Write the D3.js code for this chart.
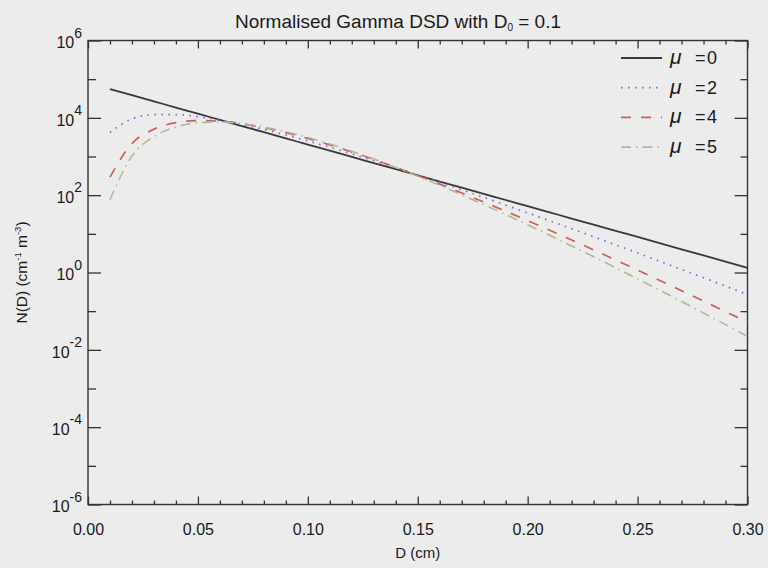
<!DOCTYPE html>
<html>
<head>
<meta charset="utf-8">
<script src="https://cdn.jsdelivr.net/npm/d3@7"></script>
<style>
    body { margin: 0; background: #ececec; }
    svg { display: block; }
    text { font-family: "Liberation Sans", Arial, Helvetica, sans-serif; fill: #1a1a1a; }
</style>
</head>
<body>
<svg id="chart" width="768" height="568"></svg>
<script>
"use strict"

// drop diameter D (cm)
const diameters = [0.01, 0.02, 0.03, 0.04, 0.05, 0.06, 0.07, 0.08, 0.09, 0.10,
    0.11, 0.12, 0.13, 0.14, 0.15, 0.16, 0.17, 0.18, 0.19, 0.20,
    0.21, 0.22, 0.23, 0.24, 0.25, 0.26, 0.27, 0.28, 0.29, 0.30]

// N(D) values (cm^-1 m^-3)
const nMu0 = [55400, 38400, 26600, 18400, 12800, 8850, 6130, 4250, 2940, 2040,
    1410, 978, 678, 470, 325, 225, 156, 108, 75.0, 51.9,
    36.0, 24.9, 17.3, 12.0, 8.29, 5.74, 3.98, 2.76, 1.91, 1.32]
const nMu2 = [4155, 9430, 12030, 12130, 10750, 8782, 6781, 5024, 3607, 2526,
    1734, 1170, 779, 513, 334, 215, 138, 87.7, 55.4, 34.8,
    21.8, 13.6, 8.41, 5.19, 3.20, 1.96, 1.20, 0.732, 0.445, 0.270]
const nMu4 = [292, 2170, 5100, 7486, 8488, 8174, 7034, 5572, 4145, 2934,
    1995, 1312, 839, 524, 321, 193, 114, 66.6, 38.4, 21.9,
    12.4, 6.92, 3.84, 2.11, 1.155, 0.628, 0.339, 0.182, 0.0973, 0.0517]
const nMu5 = [76.3, 1026, 3275, 5800, 7436, 7776, 7063, 5787, 4381, 3119,
    2110, 1370, 859, 523, 310, 180, 102, 57.3, 31.5, 17.1,
    9.19, 4.87, 2.56, 1.33, 0.685, 0.350, 0.178, 0.0896, 0.0449, 0.0223]

const seriesNames = ["0", "2", "4", "5"]
const seriesValues = [nMu0, nMu2, nMu4, nMu5]

const xMajor = [0, 0.05, 0.10, 0.15, 0.20, 0.25, 0.30]
const xMinor = [0.01, 0.02, 0.03, 0.04, 0.06, 0.07, 0.08, 0.09, 0.11, 0.12, 0.13, 0.14,
    0.16, 0.17, 0.18, 0.19, 0.21, 0.22, 0.23, 0.24, 0.26, 0.27, 0.28, 0.29]
const yMajor = [1e-6, 1e-4, 1e-2, 1, 1e2, 1e4, 1e6]
const yMinor = [1e-5, 1e-3, 1e-1, 1e1, 1e3, 1e5]

const styles = [
    { color: "#383838", width: 1.8, dash: null },
    { color: "#6b6bd8", width: 1.7, dash: "1.5,5.5" },
    { color: "#cf5e52", width: 1.7, dash: "10,10" },
    { color: "#b3b894", width: 1.6, dash: "10,5,1.5,5" }
]

const margin = { top: 40.5, right: 20.5, bottom: 63.5, left: 88 }
const W = 768, H = 568

const svg = d3.select("#chart")

const x = d3.scaleLinear().domain([0, 0.3]).range([margin.left, W - margin.right])
const y = d3.scaleLog().domain([1e-6, 1e6]).range([H - margin.bottom, margin.top])

const plotBottom = H - margin.bottom
const plotRight = W - margin.right

function cleanAxis(g) {
    g.select(".domain").remove()
    g.selectAll(".tick line").attr("stroke", "#333").attr("stroke-width", 1.3)
    return g
}

// bottom axis with labels
svg.append("g")
    .attr("transform", `translate(0,${plotBottom})`)
    .call(d3.axisBottom(x).tickValues(xMajor).tickSizeInner(-8).tickSizeOuter(0)
        .tickPadding(19).tickFormat(d3.format(".2f")))
    .call(cleanAxis)
    .call(g => g.selectAll("text").attr("font-size", 16).attr("fill", "#1a1a1a"))

svg.append("g")
    .attr("transform", `translate(0,${plotBottom})`)
    .call(d3.axisBottom(x).tickValues(xMinor).tickSizeInner(-4).tickSizeOuter(0).tickFormat(""))
    .call(cleanAxis)

// top axis, ticks only
svg.append("g")
    .attr("transform", `translate(0,${margin.top})`)
    .call(d3.axisTop(x).tickValues(xMajor).tickSizeInner(-8).tickSizeOuter(0).tickFormat(""))
    .call(cleanAxis)

svg.append("g")
    .attr("transform", `translate(0,${margin.top})`)
    .call(d3.axisTop(x).tickValues(xMinor).tickSizeInner(-4).tickSizeOuter(0).tickFormat(""))
    .call(cleanAxis)

// left axis with 10^n labels
svg.append("g")
    .attr("transform", `translate(${margin.left},0)`)
    .call(d3.axisLeft(y).tickValues(yMajor).tickSizeInner(-13).tickSizeOuter(0)
        .tickPadding(6).tickFormat(""))
    .call(cleanAxis)
    .call(g => g.selectAll(".tick text")
        .attr("font-size", 16)
        .attr("fill", "#1a1a1a")
        .attr("dy", "0.45em")
        .each(function (d) {
            const t = d3.select(this)
            t.text("10")
            t.append("tspan")
                .attr("font-size", 14)
                .attr("dy", "-0.75em")
                .text(Math.round(Math.log10(d)))
        }))

svg.append("g")
    .attr("transform", `translate(${margin.left},0)`)
    .call(d3.axisLeft(y).tickValues(yMinor).tickSizeInner(-8).tickSizeOuter(0).tickFormat(""))
    .call(cleanAxis)

// right axis, ticks only
svg.append("g")
    .attr("transform", `translate(${plotRight},0)`)
    .call(d3.axisRight(y).tickValues(yMajor).tickSizeInner(-13).tickSizeOuter(0).tickFormat(""))
    .call(cleanAxis)

svg.append("g")
    .attr("transform", `translate(${plotRight},0)`)
    .call(d3.axisRight(y).tickValues(yMinor).tickSizeInner(-7).tickSizeOuter(0).tickFormat(""))
    .call(cleanAxis)

// frame
svg.append("rect")
    .attr("x", margin.left)
    .attr("y", margin.top)
    .attr("width", plotRight - margin.left)
    .attr("height", plotBottom - margin.top)
    .attr("fill", "none")
    .attr("stroke", "#333")
    .attr("stroke-width", 1.4)

// curves
const line = d3.line()
    .x(d => x(d[0]))
    .y(d => y(d[1]))
    .curve(d3.curveMonotoneX)

seriesValues.forEach((vals, i) => {
    const pts = diameters.map((D, j) => [D, vals[j]])
    svg.append("path")
        .datum(pts)
        .attr("fill", "none")
        .attr("stroke", styles[i].color)
        .attr("stroke-width", styles[i].width)
        .attr("stroke-dasharray", styles[i].dash)
        .attr("d", line)
})

// legend
const legend = svg.append("g").attr("transform", "translate(621,58)")
seriesNames.forEach((name, i) => {
    const row = legend.append("g").attr("transform", `translate(0,${i * 29.7})`)
    row.append("line")
        .attr("x1", 0).attr("x2", 41)
        .attr("stroke", styles[i].color)
        .attr("stroke-width", styles[i].width)
        .attr("stroke-dasharray", styles[i].dash)
    row.append("text")
        .attr("x", 49)
        .attr("y", 6)
        .attr("font-size", 21)
        .attr("font-family", "DejaVu Serif")
        .attr("font-style", "italic")
        .text("\u03bc")
    row.append("text")
        .attr("x", 74)
        .attr("y", 6)
        .attr("font-size", 18)
        .attr("letter-spacing", 1.5)
        .text("=" + name)
})

// title
const title = svg.append("text")
    .attr("x", 398)
    .attr("y", 28)
    .attr("text-anchor", "middle")
    .attr("font-size", 19)
title.append("tspan").text("Normalised Gamma DSD with D")
title.append("tspan").attr("font-size", 10).attr("dy", 3).text("0")
title.append("tspan").attr("dy", -3).text(" = 0.1")

// axis titles
svg.append("text")
    .attr("x", x(0.15))
    .attr("y", 558)
    .attr("text-anchor", "middle")
    .attr("font-size", 15)
    .text("D (cm)")

const ylab = svg.append("text")
    .attr("transform", `translate(27,${y(1)}) rotate(-90)`)
    .attr("text-anchor", "middle")
    .attr("font-size", 15.5)
ylab.append("tspan").text("N(D) (cm")
ylab.append("tspan").attr("font-size", 9.5).attr("dy", -6).text("-1")
ylab.append("tspan").attr("dy", 6).text(" m")
ylab.append("tspan").attr("font-size", 9.5).attr("dy", -6).text("-3")
ylab.append("tspan").attr("dy", 6).text(")")
</script>
</body>
</html>
